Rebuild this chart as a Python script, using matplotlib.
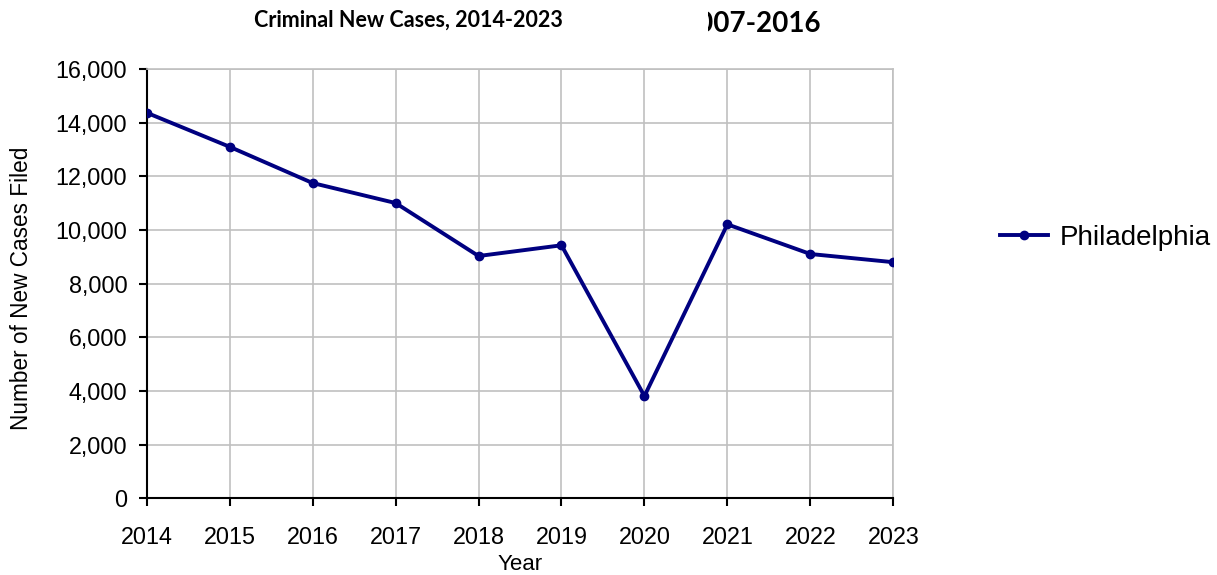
import matplotlib
matplotlib.use("Agg")
import matplotlib.pyplot as plt
from matplotlib.patches import Rectangle
from matplotlib.ticker import FuncFormatter

# Данные
years = [2014, 2015, 2016, 2017, 2018, 2019, 2020, 2021, 2022, 2023]
philadelphia = [14370, 13100, 11750, 11005, 9030, 9430, 3810, 10210, 9105, 8800]
y_ticks = [0, 2000, 4000, 6000, 8000, 10000, 12000, 14000, 16000]

plt.rcParams['font.family'] = ['Liberation Sans', 'DejaVu Sans']

fig = plt.figure(figsize=(12.17, 5.75), dpi=100)
ax = fig.add_axes([146.7 / 1217, 1 - 498.3 / 575, (893.3 - 146.7) / 1217, (498.3 - 69) / 575])

ax.plot(years, philadelphia, color='#000080', linewidth=2.8, marker='o', markersize=6,
        label='Philadelphia', zorder=3)

ax.set_xlim(years[0], years[-1])
ax.set_ylim(0, 16000)
ax.set_xticks(years)
ax.set_yticks(y_ticks)
ax.yaxis.set_major_formatter(FuncFormatter(lambda v, p: f"{int(v):,}"))
ax.grid(True, color='#c0c0c0', linewidth=1.2)
ax.set_axisbelow(True)

for s in ['top', 'right']:
    ax.spines[s].set_color('#c0c0c0')
    ax.spines[s].set_linewidth(1.2)
for s in ['left', 'bottom']:
    ax.spines[s].set_color('black')
    ax.spines[s].set_linewidth(1.5)

ax.tick_params(axis='both', direction='out', length=6, width=1.5, labelsize=16.8, colors='black')
ax.tick_params(axis='y', pad=8)
ax.tick_params(axis='x', pad=14)

ax.set_xlabel('Year', fontsize=16, labelpad=3.5)
ax.set_ylabel('Number of New Cases Filed', fontsize=16.3, labelpad=16, y=0.49)

# Заголовки
fig.text(408 / 1217, 1 - 20 / 575, 'Criminal New Cases, 2014-2023',
         family=['Lato', 'DejaVu Sans'], fontweight='bold', fontsize=15.5, ha='center', va='center')
fig.text(820 / 1217, 1 - 24 / 575, '2007-2016', family=['Lato', 'DejaVu Sans'],
         fontweight='bold', fontsize=20, ha='right', va='center', zorder=1)
fig.patches.append(Rectangle((580 / 1217, 1 - 45 / 575), (708 - 580) / 1217, 45 / 575,
                             transform=fig.transFigure, facecolor='white', edgecolor='none', zorder=2))

fig.legend(loc='center left', bbox_to_anchor=(1000 / 1217, 1 - 238 / 575), frameon=False,
           fontsize=20, handlelength=1.73, handletextpad=0.43, borderpad=0, borderaxespad=0)

fig.savefig('out.png', dpi=100)
